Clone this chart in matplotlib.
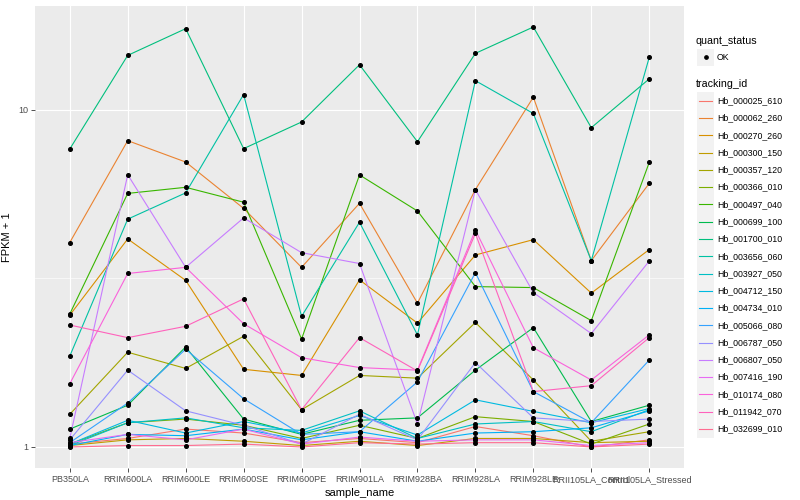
import numpy as np
import matplotlib.pyplot as plt
from matplotlib.patches import Rectangle

plt.rcParams['font.family'] = ['Liberation Sans', 'DejaVu Sans']

samples = ['PB350LA', 'RRIM600LA', 'RRIM600LE', 'RRIM600SE', 'RRIM600PE',
           'RRIM901LA', 'RRIM928BA', 'RRIM928LA', 'RRIM928LE',
           'RRII105LA_Control', 'RRII105LA_Stressed']

tracking_ids = ['Hb_000025_610', 'Hb_000062_260', 'Hb_000270_260', 'Hb_000300_150',
                'Hb_000357_120', 'Hb_000366_010', 'Hb_000497_040', 'Hb_000699_100',
                'Hb_001700_010', 'Hb_003656_060', 'Hb_003927_050', 'Hb_004712_150',
                'Hb_004734_010', 'Hb_005066_080', 'Hb_006787_050', 'Hb_006807_050',
                'Hb_007416_190', 'Hb_010174_080', 'Hb_011942_070', 'Hb_032699_010']

# FPKM + 1 per sample
hb_000025_610 = [1.02, 1.06, 1.13, 1.10, 1.03, 1.06, 1.03, 1.15, 1.08, 1.00, 1.05]
hb_000062_260 = [4.04, 8.1, 7.0, 5.1, 3.41, 5.28, 2.67, 5.8, 10.9, 3.57, 6.05]
hb_000270_260 = [2.46, 4.14, 3.12, 1.70, 1.63, 3.13, 2.33, 3.71, 4.12, 2.86, 3.85]
hb_000300_150 = [1.01, 1.05, 1.06, 1.04, 1.01, 1.04, 1.01, 1.06, 1.06, 1.03, 1.04]
hb_000357_120 = [1.25, 1.91, 1.71, 2.13, 1.29, 1.63, 1.60, 2.34, 1.58, 1.04, 1.11]
hb_000366_010 = [1.02, 1.18, 1.21, 1.16, 1.06, 1.16, 1.06, 1.23, 1.19, 1.02, 1.17]
hb_000497_040 = [2.48, 5.65, 5.89, 5.32, 2.09, 6.41, 5.01, 2.99, 2.97, 2.37, 6.98]
hb_000699_100 = [1.13, 1.33, 1.98, 1.21, 1.09, 1.20, 1.22, 1.69, 2.26, 1.19, 1.33]
hb_001700_010 = [7.65, 14.5, 17.4, 7.67, 9.2, 13.6, 8.04, 14.7, 17.6, 8.85, 12.35]
hb_003656_060 = [1.86, 4.74, 5.67, 11.1, 2.44, 4.64, 2.15, 12.2, 9.75, 3.57, 14.3]
hb_003927_050 = [1.01, 1.18, 1.22, 1.14, 1.12, 1.28, 1.06, 1.17, 1.19, 1.11, 1.29]
hb_004712_150 = [1.02, 1.20, 1.10, 1.19, 1.10, 1.24, 1.085, 1.38, 1.275, 1.18, 1.30]
hb_004734_010 = [1.01, 1.09, 1.08, 1.13, 1.05, 1.11, 1.04, 1.10, 1.11, 1.14, 1.28]
hb_005066_080 = [1.03, 1.35, 1.95, 1.39, 1.09, 1.11, 1.56, 3.29, 1.46, 1.18, 1.81]
hb_006787_050 = [1.05, 1.69, 1.28, 1.16, 1.02, 1.25, 1.05, 1.78, 1.22, 1.19, 1.21]
hb_006807_050 = [1.06, 6.42, 3.41, 4.78, 3.77, 3.50, 1.17, 5.8, 2.87, 2.17, 3.56]
hb_007416_190 = [1.03, 1.09, 1.05, 1.13, 1.02, 1.07, 1.04, 1.05, 1.05, 1.01, 1.03]
hb_010174_080 = [1.54, 3.27, 3.41, 2.32, 1.84, 1.72, 1.69, 4.4, 1.97, 1.58, 2.15]
hb_011942_070 = [2.30, 2.11, 2.28, 2.75, 1.29, 2.11, 1.68, 4.3, 1.46, 1.52, 2.11]
hb_032699_010 = [1.00, 1.01, 1.01, 1.02, 1.00, 1.03, 1.02, 1.03, 1.03, 1.00, 1.02]

series = [hb_000025_610, hb_000062_260, hb_000270_260, hb_000300_150, hb_000357_120,
          hb_000366_010, hb_000497_040, hb_000699_100, hb_001700_010, hb_003656_060,
          hb_003927_050, hb_004712_150, hb_004734_010, hb_005066_080, hb_006787_050,
          hb_006807_050, hb_007416_190, hb_010174_080, hb_011942_070, hb_032699_010]

# ggplot default hue palette, 20 levels
colors = ['#F8766D', '#EA8331', '#D89000', '#C09B00', '#A3A500', '#7CAE00', '#39B600',
          '#00BB4E', '#00BF7D', '#00C1A3', '#00BFC4', '#00BAE0', '#00B0F6', '#35A2FF',
          '#9590FF', '#C77CFF', '#E76BF3', '#FA62DB', '#FF62BC', '#FF6C91']

fig = plt.figure(figsize=(8, 5), dpi=100)
ax = fig.add_axes([35/800, 32/500, 649/800, 462/500])
ax.set_facecolor('#EBEBEB')
for s in ax.spines.values():
    s.set_visible(False)

x = np.arange(len(samples))
for vals, col in zip(series, colors):
    ax.plot(x, vals, color=col, lw=0.8, zorder=3)
for vals in series:
    ax.plot(x, vals, 'o', color='black', ms=2.6, zorder=4)

ax.set_yscale('log')
ax.set_ylim(10**-0.0623, 10**1.3078)
ax.set_xlim(-0.6, len(samples) - 0.4)
ax.yaxis.set_minor_locator(plt.NullLocator())
ax.set_yticks([1, 10])
ax.set_yticklabels(['1', '10'])
ax.set_xticks(x)
ax.set_xticklabels(samples)

ax.grid(True, which='major', color='white', lw=0.85, zorder=0)
ax.axhline(10**0.5, color='white', lw=0.45, zorder=0)
ax.set_axisbelow(True)

ax.tick_params(axis='both', colors='#333333', length=3, width=0.6,
               labelsize=6.5, labelcolor='#4D4D4D', pad=2)
ax.set_xlabel('sample_name', fontsize=8, labelpad=3)
ax.set_ylabel('FPKM + 1', fontsize=8)
ax.yaxis.set_label_coords(-0.036, 0.5)

# legend (ggplot style) drawn in pixel coordinates
lax = fig.add_axes([0, 0, 1, 1], zorder=5)
lax.set_xlim(0, 800)
lax.set_ylim(500, 0)
lax.axis('off')

lax.text(696, 41, 'quant_status', fontsize=7.7, va='center', ha='left')
lax.add_patch(Rectangle((697, 48.5), 17, 17, facecolor='#F2F2F2', edgecolor='none'))
lax.plot([705.5], [57], 'o', color='black', ms=2.4)
lax.text(717, 57, 'OK', fontsize=6.3, va='center', ha='left', color='black')

lax.text(696, 84, 'tracking_id', fontsize=7.7, va='center', ha='left')
step = 17.28
for i, (tid, col) in enumerate(zip(tracking_ids, colors)):
    yc = 100.7 + i * step
    lax.add_patch(Rectangle((697, yc - step/2), 17, step, facecolor='#F2F2F2', edgecolor='none'))
    lax.plot([699, 712], [yc, yc], color=col, lw=0.8)
    lax.text(717, yc, tid, fontsize=6.3, va='center', ha='left')

fig.savefig('out.png', dpi=100)
